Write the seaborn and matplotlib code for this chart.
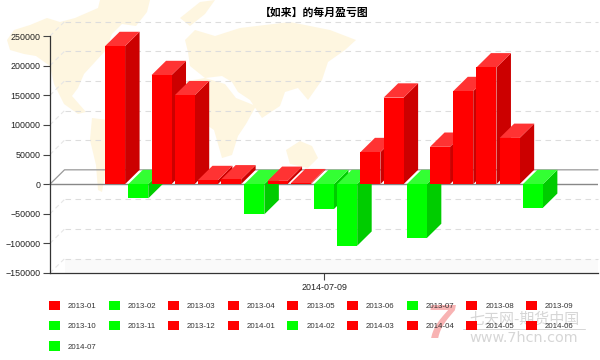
import numpy as np
import pandas as pd
import seaborn as sns
import matplotlib
matplotlib.use('Agg')
import matplotlib.pyplot as plt
from matplotlib.patches import Patch, Polygon

months = ['2013-01', '2013-02', '2013-03', '2013-04', '2013-05', '2013-06', '2013-07',
          '2013-08', '2013-09', '2013-10', '2013-11', '2013-12', '2014-01', '2014-02',
          '2014-03', '2014-04', '2014-05', '2014-06', '2014-07']
profit = [233000, -24000, 184000, 150000, 6800, 8000, -51000,
          5500, 1500, -42000, -104000, 54000, 146000, -91000,
          63000, 157000, 197000, 78000, -40000]
date_label = '2014-07-09'
y_ticks = [-150000, -100000, -50000, 0, 50000, 100000, 150000, 200000, 250000]
title = '【如来】的每月盈亏图'

# background world map, rough outlines in pixels
map_shapes = [
    [(7, 40), (14, 30), (30, 25), (47, 18), (60, 22), (75, 18), (98, 8), (100, 0), (150, 0), (147, 12),
     (136, 26), (122, 24), (112, 34), (106, 50), (95, 62), (84, 74), (78, 88), (72, 96), (86, 112), (78, 114),
     (64, 104), (54, 84), (50, 66), (36, 56), (24, 54), (10, 50)],
    [(92, 118), (108, 120), (116, 130), (112, 150), (106, 170), (102, 192), (98, 190), (96, 165), (90, 140)],
    [(185, 40), (195, 30), (215, 36), (240, 28), (290, 22), (330, 30), (356, 40), (345, 50), (328, 62), (322, 80),
     (308, 100), (298, 88), (285, 92), (280, 106), (262, 118), (250, 100), (238, 92), (232, 82), (222, 76), (205, 78),
     (190, 66), (188, 52)],
    [(182, 82), (205, 78), (225, 84), (236, 98), (256, 106), (246, 124), (238, 136), (232, 155), (222, 158), (214, 130),
     (196, 118), (182, 108)],
    [(286, 150), (300, 141), (312, 146), (318, 158), (308, 168), (290, 164)],
    [(180, 18), (200, 2), (215, 0), (205, 14), (190, 26)],
]

red = ('#ff0000', '#cc0000', '#ff3333')
green = ('#00ff00', '#00cc00', '#33ff33')
palette = {m: (red if v > 0 else green)[0] for m, v in zip(months, profit)}

df = pd.DataFrame({'date': date_label, 'month': months, 'profit': profit})

sns.set_theme(style='white')
plt.rcParams['font.family'] = ['Liberation Sans', 'Noto Sans CJK SC', 'DejaVu Sans']

fig = plt.figure(figsize=(6, 3.6), dpi=100, facecolor='white')

# pixel canvas behind the chart for the map
bg = fig.add_axes([0, 0, 1, 1], zorder=0)
bg.set_xlim(0, 600)
bg.set_ylim(360, 0)
bg.axis('off')
for shape in map_shapes:
    bg.add_patch(Polygon(shape, closed=True, facecolor='#fef6e0', edgecolor='none'))

ax = fig.add_axes([50 / 600, (360 - 273) / 360, 548 / 600, 237 / 360], zorder=1)
ax.patch.set_alpha(0)
sns.barplot(data=df, x='date', y='profit', hue='month', hue_order=months, palette=palette,
            width=0.8, gap=0.14, saturation=1, errorbar=None, legend=False, linewidth=0, ax=ax)

# 19 bars step 23.2px, so 0.8 units is 441px
unit = 441 / 0.8
ax.set_xlim(-274 / unit, 274 / unit)
ax.set_ylim(-150000, 250000)
ax.set_yticks(y_ticks)
ax.set_xlabel('')
ax.set_ylabel('')
ax.tick_params(axis='both', length=5, width=0.8, color='#444444', labelsize=6.4, labelcolor='#222222', pad=2, left=True, bottom=True)
for side in ['top', 'right']:
    ax.spines[side].set_visible(False)
for side in ['left', 'bottom']:
    ax.spines[side].set_color('#333333')
    ax.spines[side].set_linewidth(0.9)

# depth of the fake 3d in data units
dx = 14.5 / unit
dy = 14.3 / 237 * 400000
x0, x1 = ax.get_xlim()

# grid sits on the back wall
for t in y_ticks:
    if t == 0:
        continue
    ax.plot([x0 + dx, x1], [t + dy, t + dy], color='#dddddd', lw=0.8, ls=(0, (5, 4)), clip_on=False, zorder=0.5)
    ax.plot([x0, x0 + dx], [t, t + dy], color='#e6e6e6', lw=0.8, ls=(0, (4, 3)), clip_on=False, zorder=0.5)
ax.fill_between([x0 + dx, x1], -150000, -150000 + dy, color='#fafafa', zorder=0.4, lw=0)

# floor at zero
ax.plot([x0, x0 + dx, x1], [0, dy, dy], color='#999999', lw=0.9, clip_on=False, zorder=1)
ax.plot([x0, x1], [0, 0], color='#888888', lw=1.0, zorder=1)

for i, (container, v) in enumerate(zip(ax.containers, profit)):
    bar = container[0]
    front, side, top = red if v > 0 else green
    z = 2 + i * 0.1
    bar.set_zorder(z + 0.02)
    l, r = bar.get_x(), bar.get_x() + bar.get_width()
    hi = max(v, 0)
    lo = min(v, 0)
    ax.add_patch(Polygon([(r, lo), (r + dx, lo + dy), (r + dx, hi + dy), (r, hi)], closed=True,
                         facecolor=side, edgecolor='none', clip_on=False, zorder=z))
    ax.add_patch(Polygon([(l, hi), (l + dx, hi + dy), (r + dx, hi + dy), (r, hi)], closed=True,
                         facecolor=top, edgecolor='none', clip_on=False, zorder=z + 0.01))

fig.text(314 / 600, 1 - 13 / 360, title, ha='center', va='center', fontsize=7.8, fontweight='bold',
         family=['Noto Sans CJK SC', 'DejaVu Sans'], color='#000000')

# legend fills by column, reference reads across 9 per row
n_cols = 9
order = []
for c in range(n_cols):
    order += list(range(c, len(months), n_cols))
handles = [Patch(facecolor=palette[months[k]], edgecolor='none', label=months[k]) for k in order]
fig.legend(handles=handles, ncol=n_cols, loc='upper left', bbox_to_anchor=(49 / 600, 1 - 300.5 / 360), frameon=False,
           fontsize=5.7, handlelength=1.4, handleheight=1.4, handletextpad=1.0, columnspacing=1.5,
           labelspacing=1.42, borderpad=0, borderaxespad=0, labelcolor='#333333')

# watermark
fig.text(440 / 600, 1 - 325 / 360, '7', ha='center', va='center', fontsize=35, fontweight='bold', style='italic',
         color='#f58a8a', alpha=0.65, family=['Liberation Sans'], zorder=5)
fig.text(524 / 600, 1 - 319 / 360, '七天网-期货中国', ha='center', va='center', fontsize=10.8, color='#cccccc', alpha=0.8,
         family=['Noto Sans CJK SC'], zorder=5)
fig.text(524 / 600, 1 - 338 / 360, 'www.7hcn.com', ha='center', va='center', fontsize=10.4, color='#cccccc', alpha=0.8,
         family=['DejaVu Sans'], zorder=5)
fig.add_artist(plt.Line2D([463 / 600, 585 / 600], [1 - 329 / 360, 1 - 329 / 360], color='#cccccc', lw=0.7, alpha=0.8))

fig.savefig('out.png', dpi=100)
